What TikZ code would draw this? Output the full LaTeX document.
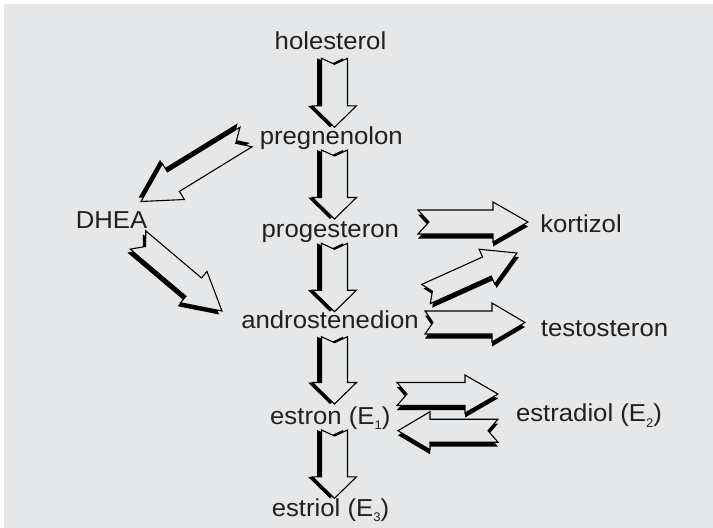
\documentclass[tikz,border=0pt]{standalone}
\usepackage{fontspec}
\setmainfont{Liberation Sans}[FakeStretch=1.05]
\usetikzlibrary{calc}
\definecolor{bggray}{RGB}{230,231,232}
\definecolor{txt}{RGB}{35,31,32}
\newcommand\subE[1]{\raisebox{-5.5pt}{\fontsize{12.5}{12.5}\selectfont #1}}
% #1 tail, #2 tip, #3 shaft half width, #4 head half width, #5 head length, #6 notch depth, #7 shadow offset (local y)
\newcommand\blockarr[7]{%
  \path let \p1=(#1), \p2=(#2), \n1={atan2(\y2-\y1,\x2-\x1)}, \n2={veclen(\x2-\x1,\y2-\y1)} in
    \pgfextra{\xdef\baAng{\n1}\xdef\baLen{\n2}};
  \begin{scope}[shift={(#1)}, rotate=\baAng]
    \fill[arrshadow, yshift=#7] (0,#3) -- (#6,0) -- (0,-#3) -- (\baLen-#5,-#3) -- (\baLen-#5,-#4)
       -- (\baLen,0) -- (\baLen-#5,#4) -- (\baLen-#5,#3) -- cycle;
    \filldraw[arrbody] (0,#3) -- (#6,0) -- (0,-#3) -- (\baLen-#5,-#3) -- (\baLen-#5,-#4)
       -- (\baLen,0) -- (\baLen-#5,#4) -- (\baLen-#5,#3) -- cycle;
  \end{scope}}
\tikzset{
  lbl/.style={anchor=base, text=txt, font=\fontsize{24.5}{27}\selectfont, inner sep=0pt},
  arrshadow/.style={fill=black},
  arrbody/.style={fill=bggray, draw=black, line width=1.1pt, line join=miter},
}
\begin{document}
\begin{tikzpicture}[x=1pt,y=1pt]
\fill[white] (0,0) rectangle (713,-528);
\fill[bggray] (3.5,-4) rectangle (713,-528);
\useasboundingbox (0,0) rectangle (713,-528);

% labels
\node[lbl] (hol) at (330.5,-49.5) {holesterol};
\node[lbl] (preg) at (331.3,-144) {pregnenolon};
\node[lbl] (dhea) at (111.5,-228.3) {DHEA};
\node[lbl] (prog) at (330.3,-237.3) {progesteron};
\node[lbl] (kort) at (581,-232.7) {kortizol};
\node[lbl] (andr) at (330,-328.3) {androstenedion};
\node[lbl] (test) at (604.5,-336.3) {testosteron};
\node[lbl] (estr) at (330.3,-424) {estron (E\subE{1})};
\node[lbl] (estd) at (589,-421.7) {estradiol (E\subE{2})};
\node[lbl] (estl) at (330.5,-516) {estriol (E\subE{3})};

% arrow end points
\coordinate (v1a) at (334.5,-58.3);  \coordinate (v1b) at (334.5,-127.3);
\coordinate (v2a) at (334.5,-150);   \coordinate (v2b) at (334.5,-219);
\coordinate (v3a) at (334.5,-243.3); \coordinate (v3b) at (334.5,-311.7);
\coordinate (v4a) at (334.5,-336.7); \coordinate (v4b) at (334.5,-404);
\coordinate (v5a) at (334.5,-430);   \coordinate (v5b) at (334.5,-498.3);
\coordinate (pda) at (246,-137);     \coordinate (pdb) at (141,-201.5);
\coordinate (daa) at (138,-240);     \coordinate (dab) at (222,-311);
\coordinate (pka) at (418,-222);     \coordinate (pkb) at (528,-222);
\coordinate (aka) at (426,-294);     \coordinate (akb) at (517,-253);
\coordinate (ata) at (425,-322.5);   \coordinate (atb) at (525,-322.5);
\coordinate (eea) at (397,-394);     \coordinate (eeb) at (498,-394);
\coordinate (eda) at (498,-430.7);   \coordinate (edb) at (398,-430.7);

% arrows
\blockarr{v1a}{v1b}{13}{22}{21.5}{6}{-4.5}
\blockarr{v2a}{v2b}{13}{22}{21.5}{6}{-4.5}
\blockarr{v3a}{v3b}{13}{22}{21.5}{6}{-4.5}
\blockarr{v4a}{v4b}{13}{22}{21.5}{6}{-4.5}
\blockarr{v5a}{v5b}{13}{22}{21.5}{6}{-4.5}
\blockarr{pda}{pdb}{11.5}{21}{38}{12}{-4.5}
\blockarr{daa}{dab}{12}{20.5}{37}{10}{-4.5}
\blockarr{pka}{pkb}{12}{20}{35}{11}{-4.5}
\blockarr{aka}{akb}{10.5}{19}{33}{7}{-4.5}
\blockarr{ata}{atb}{11.5}{19.5}{33}{8}{-4.5}
\blockarr{eea}{eeb}{11.5}{19}{33}{10}{-4.5}
\blockarr{eda}{edb}{11.5}{19}{32}{10}{4.5}
\end{tikzpicture}
\end{document}
